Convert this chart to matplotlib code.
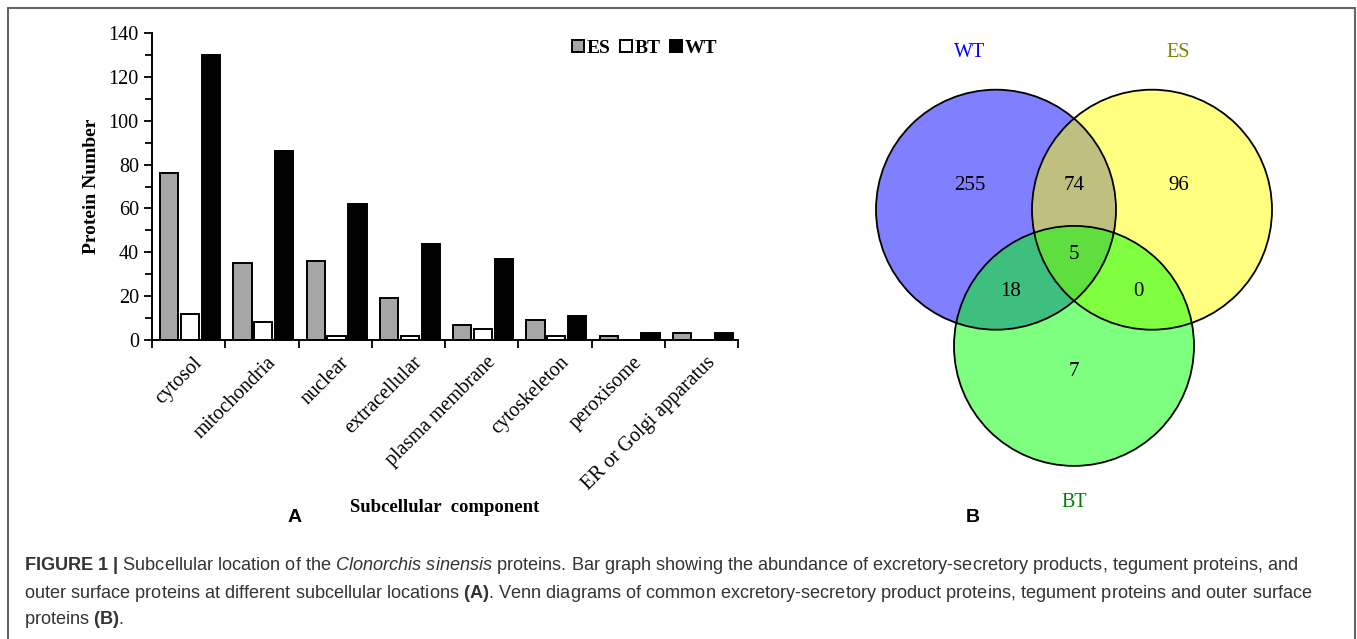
import numpy as np
import matplotlib
matplotlib.use("Agg")
import matplotlib.pyplot as plt
from matplotlib.patches import Circle, Rectangle

# ---- data ----
categories = ["cytosol", "mitochondria", "nuclear", "extracellular",
              "plasma membrane", "cytoskeleton", "peroxisome", "ER or Golgi apparatus"]
es_counts = [76, 35, 36, 19, 7, 9, 2, 3]
bt_counts = [12, 8, 2, 2, 5, 2, 0, 0]
wt_counts = [130, 86, 62, 44, 37, 11, 3, 3]
series_names = ["ES", "BT", "WT"]
series_colors = ["#a6a6a6", "white", "black"]

venn_sets = ["WT", "ES", "BT"]
venn_set_colors = ["#0000ff", "#808000", "#008000"]
venn_fill = ["blue", "yellow", "lime"]
# region counts: WT only, WT&ES, ES only, all, WT&BT, ES&BT, BT only
venn_regions = ["100", "110", "010", "111", "101", "011", "001"]
venn_counts = [255, 74, 96, 5, 18, 0, 7]

W, H = 1357, 639
fig = plt.figure(figsize=(W / 100, H / 100), dpi=100)

plt.rcParams['mathtext.fontset'] = 'custom'
plt.rcParams['mathtext.rm'] = 'Liberation Sans'
plt.rcParams['mathtext.it'] = 'Liberation Sans:italic'
plt.rcParams['mathtext.bf'] = 'Liberation Sans:bold'

serif = "Liberation Serif"

# ---- panel A: bar chart ----
ax = fig.add_axes([152 / W, 1 - 340 / H, (738 - 152) / W, (340 - 33) / H])
x = np.arange(len(categories))
bw = 0.25
for i, (vals, name, col) in enumerate(zip([es_counts, bt_counts, wt_counts],
                                          series_names, series_colors)):
    ax.bar(x + (i - 1) * 0.285 + 0.02, vals, bw, color=col, edgecolor="black",
           linewidth=1.4, label=name)

ax.set_xlim(-0.5, len(categories) - 0.5)
ax.set_ylim(0, 140)
ax.set_yticks(np.arange(0, 141, 20))
ax.set_yticks(np.arange(0, 141, 10), minor=True)
ax.set_xticks(np.arange(-0.5, len(categories), 1))
ax.set_xticklabels([])
ax.tick_params(axis="y", direction="out", length=6, width=1.3, labelsize=14.5)
ax.tick_params(axis="y", which="minor", direction="out", length=5, width=1.3)
ax.tick_params(axis="x", direction="out", length=6, width=1.3)
for lab in ax.get_yticklabels():
    lab.set_fontfamily(serif)
for s in ["top", "right"]:
    ax.spines[s].set_visible(False)
for s in ["left", "bottom"]:
    ax.spines[s].set_linewidth(1.4)

for xi, name in zip(x, categories):
    ax.text(xi + 0.06, -6, name, rotation=45, ha="right", va="top",
            rotation_mode="anchor", fontsize=14.5, fontfamily=serif)

ax.set_ylabel("Protein Number", fontsize=14, fontweight="bold", fontfamily=serif, labelpad=6)
leg = ax.legend(loc="upper right", bbox_to_anchor=(0.995, 1.035), ncol=3, frameon=False,
                handlelength=0.6, handleheight=0.6, handletextpad=0.15, columnspacing=0.5,
                prop={"family": serif, "weight": "bold", "size": 14})

fig.text(445 / W, 1 - 508 / H, "Subcellular  component", ha="center", va="center",
         fontsize=13.5, fontweight="bold", fontfamily=serif)
fig.text(295 / W, 1 - 517 / H, "A", ha="center", va="center", fontsize=14,
         fontweight="bold", fontfamily="Liberation Sans")
fig.text(973 / W, 1 - 517 / H, "B", ha="center", va="center", fontsize=14,
         fontweight="bold", fontfamily="Liberation Sans")

# ---- panel B: Venn diagram ----
r = 120.0
axv = fig.add_axes([860 / W, 1 - 520 / H, 430 / W, 490 / H])
axv.set_xlim(-(1074 - 860) / r, (1290 - 1074) / r)
axv.set_ylim(-(520 - 255.3) / r, (255.3 - 30) / r)
axv.axis("off")

d = 0.65
centers = [(-d, 0.38), (d, 0.38), (0, -0.755)]
for c, fc in zip(centers, venn_fill):
    axv.add_patch(Circle(c, 1.0, facecolor=fc, alpha=0.5, edgecolor="none"))
for c in centers:
    axv.add_patch(Circle(c, 1.0, facecolor="none", edgecolor="black", linewidth=1.3))

region_pos = {"100": (-0.87, 0.58), "110": (0, 0.58), "010": (0.87, 0.58),
              "111": (0, 0.01), "101": (-0.53, -0.30), "011": (0.54, -0.30),
              "001": (0, -0.97)}
for reg, cnt in zip(venn_regions, venn_counts):
    px, py = region_pos[reg]
    axv.text(px, py, str(cnt), ha="center", va="center", fontsize=15, fontfamily=serif)

label_pos = [(-0.87, 1.69), (0.87, 1.69), (0, -2.06)]
for name, col, (px, py) in zip(venn_sets, venn_set_colors, label_pos):
    axv.text(px, py, name, ha="center", va="center", fontsize=14.5, color=col,
             fontfamily=serif)

# ---- frame and caption ----
fig.patches.append(Rectangle((8 / W, -0.01), (1355 - 8) / W, 1 - 8 / H + 0.01,
                             transform=fig.transFigure, fill=False,
                             edgecolor="#666666", linewidth=1.5))

cap_col = "#333333"
lines = [
    r"$\mathbf{FIGURE\ 1\ |}$ Subcellular location of the $\mathit{Clonorchis\ sinensis}$ proteins. "
    "Bar graph showing the abundance of excretory-secretory products, tegument proteins, and",
    r"outer surface proteins at different subcellular locations $\mathbf{(A)}$. Venn diagrams of "
    "common excretory-secretory product proteins, tegument proteins and outer surface",
    r"proteins $\mathbf{(B)}$.",
]
for ly, txt in zip([566, 594, 620], lines):
    fig.text(24 / W, 1 - ly / H, txt, ha="left", va="center", fontsize=13.1,
             color=cap_col, fontfamily="Liberation Sans")

fig.savefig("out.png", dpi=100)
